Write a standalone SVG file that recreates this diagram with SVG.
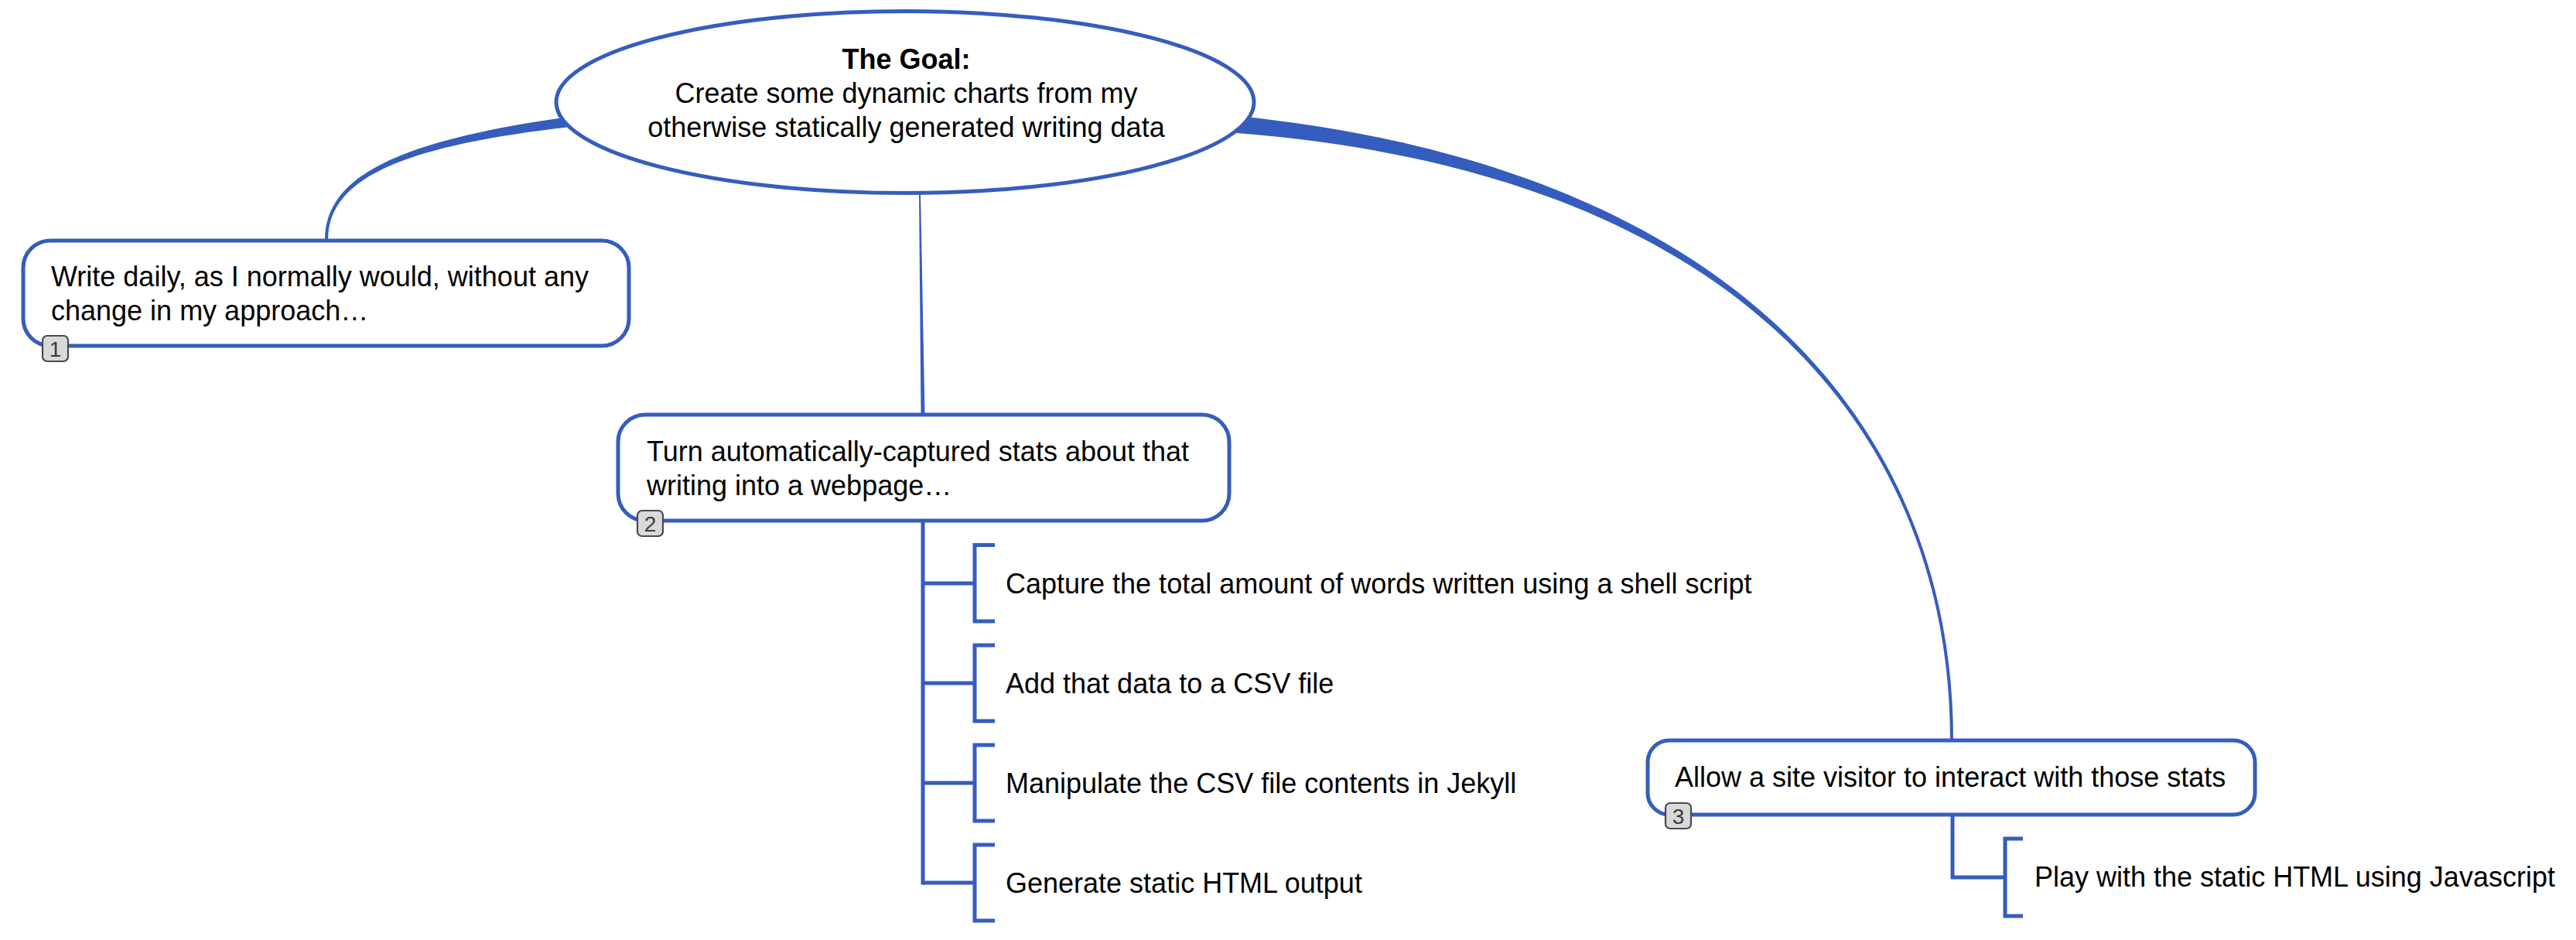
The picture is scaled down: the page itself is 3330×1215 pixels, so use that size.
<svg xmlns="http://www.w3.org/2000/svg" width="3330" height="1215" viewBox="0 0 3330 1215">
  <style>
    .txt { font-family: "Liberation Sans", Arial, Helvetica, sans-serif; font-size: 36px; fill: #000; }
    .bold { font-weight: bold; }
    .box { fill: #fff; stroke: #355dbd; stroke-width: 5; }
    .line { fill: none; stroke: #355dbd; stroke-width: 5; }
    .taper { fill: #355dbd; stroke: none; }
    .badge { fill: #d9d9d9; stroke: #4a4a4a; stroke-width: 2.2; }
    .badgetxt { font-family: "Liberation Sans", Arial, sans-serif; font-size: 28px; fill: #3c3c3c; text-anchor: middle; }
  </style>
  <rect width="3330" height="1215" fill="#fff"/>

  <g id="connectors">
    <!-- root to node 1 (tapered) -->
    <path class="taper" d="M 736 151 C 508.5 182.3, 420 230.5, 420 310 L 424 310 C 424 233.5, 511.5 189.7, 737 164 Z"/>
    <!-- root to node 2 (thin) -->
    <path class="taper" d="M 1188 248 L 1190 248 L 1195.5 537 L 1190.5 537 Z"/>
    <!-- root to node 3 (tapered) -->
    <path class="taper" d="M 1601 150 C 2251 217.5, 2525 559, 2525 957 L 2521 957 C 2521 561, 2249 222.5, 1599 172 Z"/>

    <!-- node 2 children -->
    <path class="line" d="M 1193 673 L 1193 1143.5"/>
    <path class="line" d="M 1193 754 H 1260 M 1286 704.5 H 1260 V 803 H 1286"/>
    <path class="line" d="M 1193 883 H 1260 M 1286 834 H 1260 V 932 H 1286"/>
    <path class="line" d="M 1193 1012 H 1260 M 1286 963 H 1260 V 1061 H 1286"/>
    <path class="line" d="M 1193 1141 H 1260 M 1286 1092 H 1260 V 1190 H 1286"/>

    <!-- node 3 child -->
    <path class="line" d="M 2524 1053 V 1134 H 2592 M 2615 1084 H 2592 V 1184 H 2615"/>
  </g>

  <g id="root">
    <ellipse class="box" cx="1170" cy="132" rx="451" ry="117.5"/>
    <text class="txt bold" x="1171.5" y="89" text-anchor="middle">The Goal:</text>
    <text class="txt" x="1171.5" y="133" text-anchor="middle">Create some dynamic charts from my</text>
    <text class="txt" x="1171.5" y="177" text-anchor="middle">otherwise statically generated writing data</text>
  </g>

  <g id="node1">
    <rect class="box" x="30" y="311" width="783" height="136" rx="35" ry="35"/>
    <text class="txt" x="66" y="370">Write daily, as I normally would, without any</text>
    <text class="txt" x="66" y="414">change in my approach…</text>
    <rect class="badge" x="55" y="434" width="33" height="33" rx="6" ry="6"/>
    <text class="badgetxt" x="71.5" y="461">1</text>
  </g>

  <g id="node2">
    <rect class="box" x="799" y="536" width="790" height="137" rx="35" ry="35"/>
    <text class="txt" x="836" y="596">Turn automatically-captured stats about that</text>
    <text class="txt" x="836" y="640">writing into a webpage…</text>
    <rect class="badge" x="824" y="660" width="33" height="33" rx="6" ry="6"/>
    <text class="badgetxt" x="840.5" y="687">2</text>
  </g>

  <g id="node2-1">
    <text class="txt" x="1300" y="767">Capture the total amount of words written using a shell script</text>
  </g>
  <g id="node2-2">
    <text class="txt" x="1300" y="896">Add that data to a CSV file</text>
  </g>
  <g id="node2-3">
    <text class="txt" x="1300" y="1025">Manipulate the CSV file contents in Jekyll</text>
  </g>
  <g id="node2-4">
    <text class="txt" x="1300" y="1154">Generate static HTML output</text>
  </g>

  <g id="node3">
    <rect class="box" x="2130" y="957" width="785" height="96" rx="28" ry="28"/>
    <text class="txt" x="2165" y="1017">Allow a site visitor to interact with those stats</text>
    <rect class="badge" x="2153" y="1038" width="33" height="33" rx="6" ry="6"/>
    <text class="badgetxt" x="2169.5" y="1065">3</text>
  </g>

  <g id="node3-1">
    <text class="txt" x="2630" y="1146">Play with the static HTML using Javascript</text>
  </g>
</svg>
